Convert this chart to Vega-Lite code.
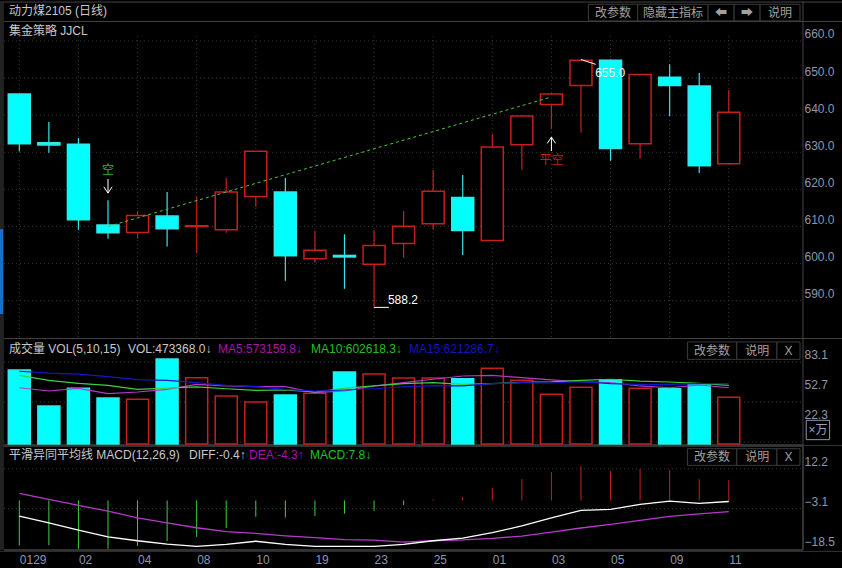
{
  "$schema": "https://vega.github.io/schema/vega-lite/v6.json",
  "background": "#000000",
  "padding": {"left": -2, "top": 0, "right": 0, "bottom": 0},
  "spacing": 0,
  "bounds": "flush",
  "config": {
    "view": {"stroke": null},
    "scale": {"continuousPadding": 0},
    "text": {"font": "Liberation Sans, Noto Sans CJK SC", "fontSize": 12},
    "axis": {"labelFont": "Liberation Sans, Noto Sans CJK SC", "labelFontSize": 12}
  },
  "datasets": {
    "days": [
      {"i":0,"day":"0129","dir":"down","open":645.7,"high":645.7,"low":630.2,"close":632.3,"vol":75,"ma5":57.0,"ma10":69.6,"ma15":73.7,"diff":-6.0,"dea":2.7,"macd":-17.3},
      {"i":1,"day":"01","dir":"down","open":632.6,"high":638.2,"low":629.9,"close":632.0,"vol":38.5,"ma5":53.7,"ma10":64.5,"ma15":71.9,"diff":-8.6,"dea":0.4,"macd":-17.2},
      {"i":2,"day":"02","dir":"down","open":632.2,"high":633.85,"low":609.1,"close":611.8,"vol":56.4,"ma5":56.4,"ma10":61.5,"ma15":70.9,"diff":-11.4,"dea":-1.9,"macd":-18.6},
      {"i":3,"day":"03","dir":"down","open":610.4,"high":617.1,"low":606.7,"close":608.3,"vol":46.6,"ma5":51.0,"ma10":59.5,"ma15":68.2,"diff":-14.0,"dea":-4.1,"macd":-18.6},
      {"i":4,"day":"04","dir":"up","open":608.4,"high":614.2,"low":606.7,"close":613.0,"vol":45.3,"ma5":52.7,"ma10":55.4,"ma15":65.2,"diff":-15.5,"dea":-6.7,"macd":-17.5},
      {"i":5,"day":"05","dir":"down","open":612.8,"high":619.3,"low":604.6,"close":609.4,"vol":86.1,"ma5":55.4,"ma10":56.7,"ma15":64.5,"diff":-16.8,"dea":-8.6,"macd":-15.6},
      {"i":6,"day":"08","dir":"up","open":610.0,"high":618.0,"low":602.9,"close":610.2,"vol":67.2,"ma5":60.5,"ma10":57.8,"ma15":62.1,"diff":-17.7,"dea":-10.5,"macd":-14.0},
      {"i":7,"day":"09","dir":"up","open":609.1,"high":623.1,"low":608.3,"close":619.3,"vol":48.6,"ma5":58.8,"ma10":56.0,"ma15":59.5,"diff":-16.9,"dea":-12.0,"macd":-10.6},
      {"i":8,"day":"10","dir":"up","open":618.1,"high":630.3,"low":615.3,"close":630.3,"vol":42.6,"ma5":58.1,"ma10":54.4,"ma15":58.1,"diff":-15.7,"dea":-12.7,"macd":-6.3},
      {"i":9,"day":"18","dir":"down","open":619.3,"high":623.1,"low":595.4,"close":602.1,"vol":49.7,"ma5":58.1,"ma10":54.7,"ma15":55.4,"diff":-16.9,"dea":-13.6,"macd":-6.6},
      {"i":10,"day":"19","dir":"up","open":601.3,"high":608.8,"low":600.2,"close":603.6,"vol":51.4,"ma5":52.0,"ma10":52.7,"ma15":53.7,"diff":-17.7,"dea":-14.3,"macd":-6.0},
      {"i":11,"day":"22","dir":"down","open":602.2,"high":607.9,"low":593.2,"close":601.8,"vol":73,"ma5":53.7,"ma10":56.4,"ma15":54.7,"diff":-17.7,"dea":-15.1,"macd":-5.1},
      {"i":12,"day":"23","dir":"up","open":599.8,"high":609.0,"low":588.2,"close":604.9,"vol":70.9,"ma5":58.8,"ma10":58.8,"ma15":56.0,"diff":-17.7,"dea":-15.3,"macd":-4.0},
      {"i":13,"day":"24","dir":"up","open":605.4,"high":614.2,"low":601.6,"close":610.1,"vol":66.9,"ma5":62.1,"ma10":61.1,"ma15":57.8,"diff":-16.9,"dea":-16.0,"macd":-1.8},
      {"i":14,"day":"25","dir":"up","open":610.75,"high":625.2,"low":609.1,"close":619.5,"vol":66.9,"ma5":65.6,"ma10":62.1,"ma15":59.1,"diff":-15.5,"dea":-15.5,"macd":0.4},
      {"i":15,"day":"26","dir":"down","open":617.8,"high":623.9,"low":602.3,"close":608.9,"vol":66.2,"ma5":68.9,"ma10":60.5,"ma15":58.8,"diff":-14.5,"dea":-15.2,"macd":1.3},
      {"i":16,"day":"01","dir":"up","open":606.2,"high":634.9,"low":606.2,"close":631.4,"vol":76.7,"ma5":69.6,"ma10":61.1,"ma15":61.1,"diff":-12.4,"dea":-14.6,"macd":4.8},
      {"i":17,"day":"02","dir":"up","open":632.05,"high":640.05,"low":625.3,"close":639.8,"vol":64.5,"ma5":67.2,"ma10":62.5,"ma15":62.1,"diff":-9.8,"dea":-13.7,"macd":8.2},
      {"i":18,"day":"03","dir":"up","open":642.9,"high":646,"low":636.3,"close":645.7,"vol":50.4,"ma5":64.9,"ma10":63.1,"ma15":61.8,"diff":-6.7,"dea":-12.2,"macd":10.9},
      {"i":19,"day":"04","dir":"up","open":648,"high":655,"low":635.3,"close":654.8,"vol":57.4,"ma5":63.1,"ma10":64.5,"ma15":63.1,"diff":-3.8,"dea":-10.6,"macd":13.2},
      {"i":20,"day":"05","dir":"down","open":654.8,"high":655,"low":627.7,"close":631,"vol":65.2,"ma5":62.1,"ma10":65.6,"ma15":61.1,"diff":-3.4,"dea":-9.2,"macd":11.3},
      {"i":21,"day":"08","dir":"up","open":632.3,"high":651,"low":628.3,"close":651,"vol":56.4,"ma5":58.8,"ma10":63.8,"ma15":60.5,"diff":-1.5,"dea":-7.7,"macd":12.1},
      {"i":22,"day":"09","dir":"down","open":650.2,"high":653.7,"low":639.8,"close":648,"vol":55.9,"ma5":57.0,"ma10":62.8,"ma15":60.5,"diff":-0.3,"dea":-6.1,"macd":11.7},
      {"i":23,"day":"10","dir":"down","open":647.9,"high":651.4,"low":624.4,"close":626.4,"vol":60.5,"ma5":59.8,"ma10":61.5,"ma15":61.1,"diff":-1.1,"dea":-5.2,"macd":8.2},
      {"i":24,"day":"11","dir":"up","open":626.9,"high":646.8,"low":626.9,"close":640.8,"vol":47.3,"ma5":57.0,"ma10":59.5,"ma15":61.1,"diff":-0.4,"dea":-4.3,"macd":7.8}
    ],
    "grids": [
      {"panel":"price","at":660},{"panel":"price","at":650},{"panel":"price","at":640},{"panel":"price","at":630},
      {"panel":"price","at":620},{"panel":"price","at":610},{"panel":"price","at":600},{"panel":"price","at":590},
      {"panel":"vol","at":83.1},{"panel":"vol","at":42.6},{"panel":"vol","at":2.0},
      {"panel":"macd","at":12.2},{"panel":"macd","at":-3.1}
    ],
    "trend": [
      {"name":"signal","seq":0,"i":3.0,"price":610.0},
      {"name":"signal","seq":1,"i":18.0,"price":644.9},
      {"name":"top","seq":0,"i":19.0,"price":655.0},
      {"name":"top","seq":1,"i":19.5,"price":653.7},
      {"name":"bottom","seq":0,"i":12.0,"price":588.2},
      {"name":"bottom","seq":1,"i":12.5,"price":588.2},
      {"name":"short","seq":0,"i":3.0,"price":622.8},
      {"name":"short","seq":1,"i":3.0,"price":619.0},
      {"name":"shortHead","seq":0,"i":2.86,"price":620.7},
      {"name":"shortHead","seq":1,"i":3.0,"price":619.0},
      {"name":"shortHead","seq":2,"i":3.14,"price":620.7},
      {"name":"cover","seq":0,"i":18.0,"price":630.35},
      {"name":"cover","seq":1,"i":18.0,"price":634.1},
      {"name":"coverHead","seq":0,"i":17.86,"price":632.4},
      {"name":"coverHead","seq":1,"i":18.0,"price":634.1},
      {"name":"coverHead","seq":2,"i":18.14,"price":632.4}
    ],
    "buttons": [
      {"panel":"price","a":19.25,"b":20.92,"lo":665.4,"hi":669.9},
      {"panel":"price","a":20.92,"b":23.30,"lo":665.4,"hi":669.9},
      {"panel":"price","a":23.30,"b":24.18,"lo":665.4,"hi":669.9},
      {"panel":"price","a":24.18,"b":25.06,"lo":665.4,"hi":669.9},
      {"panel":"price","a":25.06,"b":26.41,"lo":665.4,"hi":669.9},
      {"panel":"vol","a":22.60,"b":24.27,"lo":85.8,"hi":103.4},
      {"panel":"vol","a":24.27,"b":25.63,"lo":85.8,"hi":103.4},
      {"panel":"vol","a":25.63,"b":26.41,"lo":85.8,"hi":103.4},
      {"panel":"macd","a":22.60,"b":24.27,"lo":13.5,"hi":19.9},
      {"panel":"macd","a":24.27,"b":25.63,"lo":13.5,"hi":19.9},
      {"panel":"macd","a":25.63,"b":26.41,"lo":13.5,"hi":19.9}
    ],
    "notes": [
      {"panel":"price","side":"left","tone":"label","i":-0.348,"at":668.0,"text":"动力煤2105 (日线)"},
      {"panel":"price","side":"left","tone":"label","i":-0.348,"at":662.7,"text":"集金策略 JJCL"},
      {"panel":"price","side":"left","tone":"white","i":19.48,"at":651.4,"text":"655.0"},
      {"panel":"price","side":"left","tone":"white","i":12.47,"at":590.3,"text":"588.2"},
      {"panel":"price","side":"mid","tone":"green","i":3.0,"at":625.2,"text":"空"},
      {"panel":"price","side":"mid","tone":"red","i":18.0,"at":627.9,"text":"平空"},
      {"panel":"price","side":"mid","tone":"button","i":20.08,"at":667.6,"text":"改参数"},
      {"panel":"price","side":"mid","tone":"button","i":22.11,"at":667.6,"text":"隐藏主指标"},
      {"panel":"price","side":"mid","tone":"button","i":23.74,"at":667.6,"text":"⬅"},
      {"panel":"price","side":"mid","tone":"button","i":24.62,"at":667.6,"text":"➡"},
      {"panel":"price","side":"mid","tone":"button","i":25.73,"at":667.6,"text":"说明"},
      {"panel":"vol","side":"left","tone":"label","i":-0.348,"at":96.6,"text":"成交量 VOL(5,10,15)"},
      {"panel":"vol","side":"left","tone":"label","i":3.677,"at":96.6,"text":"VOL:473368.0↓"},
      {"panel":"vol","side":"left","tone":"magenta","i":6.72,"at":96.6,"text":"MA5:573159.8↓"},
      {"panel":"vol","side":"left","tone":"green","i":9.87,"at":96.6,"text":"MA10:602618.3↓"},
      {"panel":"vol","side":"left","tone":"blue","i":13.18,"at":96.6,"text":"MA15:621286.7↓"},
      {"panel":"vol","side":"mid","tone":"button","i":23.43,"at":94.6,"text":"改参数"},
      {"panel":"vol","side":"mid","tone":"button","i":24.96,"at":94.6,"text":"说明"},
      {"panel":"vol","side":"mid","tone":"button","i":26.02,"at":94.6,"text":"X"},
      {"panel":"vol","side":"mid","tone":"axis","i":27.02,"at":14.2,"text":"×万"},
      {"panel":"macd","side":"left","tone":"label","i":-0.348,"at":17.6,"text":"平滑异同平均线 MACD(12,26,9)"},
      {"panel":"macd","side":"left","tone":"label","i":5.74,"at":17.6,"text":"DIFF:-0.4↑"},
      {"panel":"macd","side":"left","tone":"magenta","i":7.77,"at":17.6,"text":"DEA:-4.3↑"},
      {"panel":"macd","side":"left","tone":"green","i":9.83,"at":17.6,"text":"MACD:7.8↓"},
      {"panel":"macd","side":"mid","tone":"button","i":23.43,"at":16.7,"text":"改参数"},
      {"panel":"macd","side":"mid","tone":"button","i":24.96,"at":16.7,"text":"说明"},
      {"panel":"macd","side":"mid","tone":"button","i":26.02,"at":16.7,"text":"X"}
    ]
  },
  "vconcat": [
    {
      "width": 842,
      "height": 338,
      "layer": [
        {
          "data": {"name": "grids"},
          "transform": [{"filter": "datum.panel == 'price'"}],
          "mark": {"type": "rule", "color": "#3a3a3a", "strokeDash": [1, 3]},
          "encoding": {
            "x": {"datum": -0.52, "type": "quantitative", "scale": {"domain": [-0.653, 27.83], "nice": false, "zero": false}, "axis": null},
            "x2": {"datum": 26.5},
            "y": {
              "field": "at",
              "type": "quantitative",
              "scale": {"domain": [579.68, 670.78], "nice": false, "zero": false},
              "axis": {"orient": "right", "offset": -39, "values": [660, 650, 640, 630, 620, 610, 600, 590], "format": ".1f", "title": null, "grid": false, "domain": false, "ticks": false, "labelOffset": -7, "labelPadding": 1, "labelColor": "#8d97ab", "zindex": 1}
            }
          }
        },
        {
          "data": {"name": "days"},
          "transform": [{"filter": "datum.i % 2 == 0"}],
          "mark": {"type": "rule", "color": "#3a3a3a", "strokeDash": [1, 3]},
          "encoding": {
            "x": {"field": "i", "type": "quantitative", "scale": {"domain": [-0.653, 27.83], "nice": false, "zero": false}},
            "y": {"datum": 661.35, "type": "quantitative", "scale": {"domain": [579.68, 670.78], "nice": false, "zero": false}},
            "y2": {"datum": 579.68}
          }
        },
        {
          "data": {"values": [{"at": 670.5}, {"at": 665.26}, {"at": 579.8}]},
          "mark": {"type": "rule", "color": "#444444"},
          "encoding": {"y": {"field": "at", "type": "quantitative", "scale": {"domain": [579.68, 670.78], "nice": false, "zero": false}}}
        },
        {
          "data": {"values": [{}]},
          "mark": {"type": "rect", "color": "#222222"},
          "encoding": {
            "x": {"datum": -0.653, "type": "quantitative", "scale": {"domain": [-0.653, 27.83], "nice": false, "zero": false}},
            "x2": {"datum": -0.52}
          }
        },
        {
          "data": {"values": [{}]},
          "mark": {"type": "rect", "color": "#1a6fc4"},
          "encoding": {
            "x": {"datum": -0.653, "type": "quantitative", "scale": {"domain": [-0.653, 27.83], "nice": false, "zero": false}},
            "x2": {"datum": -0.55},
            "y": {"datum": 609.3, "type": "quantitative", "scale": {"domain": [579.68, 670.78], "nice": false, "zero": false}},
            "y2": {"datum": 586.4}
          }
        },
        {
          "data": {"values": [{}]},
          "mark": {"type": "rule", "color": "#444444"},
          "encoding": {"x": {"datum": 26.51, "type": "quantitative", "scale": {"domain": [-0.653, 27.83], "nice": false, "zero": false}}}
        },
        {
          "data": {"name": "days"},
          "mark": {"type": "rule", "strokeWidth": 1.2},
          "encoding": {
            "x": {"field": "i", "type": "quantitative", "scale": {"domain": [-0.653, 27.83], "nice": false, "zero": false}},
            "y": {"field": "low", "type": "quantitative", "scale": {"domain": [579.68, 670.78], "nice": false, "zero": false}},
            "y2": {"field": "high"},
            "stroke": {"field": "dir", "type": "nominal", "scale": {"domain": ["up", "down"], "range": ["#c81e1e", "#33e8e8"]}, "legend": null}
          }
        },
        {
          "data": {"name": "days"},
          "mark": {"type": "bar", "size": 22, "strokeWidth": 1.5},
          "encoding": {
            "x": {"field": "i", "type": "quantitative", "scale": {"domain": [-0.653, 27.83], "nice": false, "zero": false}},
            "y": {"field": "open", "type": "quantitative", "scale": {"domain": [579.68, 670.78], "nice": false, "zero": false}},
            "y2": {"field": "close"},
            "fill": {"field": "dir", "type": "nominal", "scale": {"domain": ["up", "down"], "range": ["#000000", "#00ffff"]}, "legend": null},
            "stroke": {"field": "dir", "type": "nominal", "scale": {"domain": ["up", "down"], "range": ["#c81e1e", "#00ffff"]}, "legend": null}
          }
        },
        {
          "data": {"name": "trend"},
          "transform": [{"filter": "datum.name == 'signal'"}],
          "mark": {"type": "line", "color": "#4fc93a", "strokeWidth": 1, "strokeDash": [3, 3]},
          "encoding": {
            "x": {"field": "i", "type": "quantitative", "scale": {"domain": [-0.653, 27.83], "nice": false, "zero": false}},
            "y": {"field": "price", "type": "quantitative", "scale": {"domain": [579.68, 670.78], "nice": false, "zero": false}}
          }
        },
        {
          "data": {"name": "trend"},
          "transform": [{"filter": "datum.name != 'signal'"}],
          "mark": {"type": "line", "color": "#ffffff", "strokeWidth": 1},
          "encoding": {
            "x": {"field": "i", "type": "quantitative", "scale": {"domain": [-0.653, 27.83], "nice": false, "zero": false}},
            "y": {"field": "price", "type": "quantitative", "scale": {"domain": [579.68, 670.78], "nice": false, "zero": false}},
            "detail": {"field": "name"},
            "order": {"field": "seq"}
          }
        },
        {
          "data": {"name": "buttons"},
          "transform": [{"filter": "datum.panel == 'price'"}],
          "mark": {"type": "rect", "fill": "#000000", "stroke": "#3c3c3c"},
          "encoding": {
            "x": {"field": "a", "type": "quantitative", "scale": {"domain": [-0.653, 27.83], "nice": false, "zero": false}},
            "x2": {"field": "b"},
            "y": {"field": "lo", "type": "quantitative", "scale": {"domain": [579.68, 670.78], "nice": false, "zero": false}},
            "y2": {"field": "hi"}
          }
        },
        {
          "data": {"name": "notes"},
          "transform": [{"filter": "datum.panel == 'price' && datum.side == 'left'"}],
          "mark": {"type": "text", "align": "left", "baseline": "middle"},
          "encoding": {
            "x": {"field": "i", "type": "quantitative", "scale": {"domain": [-0.653, 27.83], "nice": false, "zero": false}},
            "y": {"field": "at", "type": "quantitative", "scale": {"domain": [579.68, 670.78], "nice": false, "zero": false}},
            "text": {"field": "text"},
            "color": {"field": "tone", "type": "nominal", "legend": null, "scale": {"domain": ["label", "white", "green", "red", "button", "magenta", "blue", "axis"], "range": ["#c8c8c8", "#ffffff", "#1fc01f", "#c81e1e", "#a0a0a0", "#a814a8", "#1414c0", "#9aa4b8"]}}
          }
        },
        {
          "data": {"name": "notes"},
          "transform": [{"filter": "datum.panel == 'price' && datum.side == 'mid'"}],
          "mark": {"type": "text", "align": "center", "baseline": "middle"},
          "encoding": {
            "x": {"field": "i", "type": "quantitative", "scale": {"domain": [-0.653, 27.83], "nice": false, "zero": false}},
            "y": {"field": "at", "type": "quantitative", "scale": {"domain": [579.68, 670.78], "nice": false, "zero": false}},
            "text": {"field": "text"},
            "color": {"field": "tone", "type": "nominal", "legend": null, "scale": {"domain": ["label", "white", "green", "red", "button", "magenta", "blue", "axis"], "range": ["#c8c8c8", "#ffffff", "#1fc01f", "#c81e1e", "#a0a0a0", "#a814a8", "#1414c0", "#9aa4b8"]}}
          }
        }
      ]
    },
    {
      "width": 842,
      "height": 107,
      "layer": [
        {
          "data": {"name": "grids"},
          "transform": [{"filter": "datum.panel == 'vol'"}],
          "mark": {"type": "rule", "color": "#3a3a3a", "strokeDash": [1, 3]},
          "encoding": {
            "x": {"datum": -0.52, "type": "quantitative", "scale": {"domain": [-0.653, 27.83], "nice": false, "zero": false}, "axis": null},
            "x2": {"datum": 26.5},
            "y": {
              "field": "at",
              "type": "quantitative",
              "scale": {"domain": [-2.03, 106.4], "nice": false, "zero": false},
              "axis": {"orient": "right", "offset": -39, "values": [83.1, 52.7, 22.3], "format": ".1f", "title": null, "grid": false, "domain": false, "ticks": false, "labelOffset": -7, "labelPadding": 1, "labelColor": "#8d97ab", "zindex": 0}
            }
          }
        },
        {
          "data": {"values": [{"at": -1.5}]},
          "mark": {"type": "rule", "color": "#333333"},
          "encoding": {"y": {"field": "at", "type": "quantitative", "scale": {"domain": [-2.03, 106.4], "nice": false, "zero": false}}}
        },
        {
          "data": {"values": [{"at": -1.5}]},
          "mark": {"type": "rule", "color": "#333333", "strokeWidth": 3},
          "encoding": {
            "x": {"datum": -0.653, "type": "quantitative", "scale": {"domain": [-0.653, 27.83], "nice": false, "zero": false}},
            "x2": {"datum": 26.51},
            "y": {"field": "at", "type": "quantitative", "scale": {"domain": [-2.03, 106.4], "nice": false, "zero": false}}
          }
        },
        {
          "data": {"values": [{}]},
          "mark": {"type": "rect", "color": "#222222"},
          "encoding": {
            "x": {"datum": -0.653, "type": "quantitative", "scale": {"domain": [-0.653, 27.83], "nice": false, "zero": false}},
            "x2": {"datum": -0.52}
          }
        },
        {
          "data": {"values": [{}]},
          "mark": {"type": "rule", "color": "#444444"},
          "encoding": {"x": {"datum": 26.51, "type": "quantitative", "scale": {"domain": [-0.653, 27.83], "nice": false, "zero": false}}}
        },
        {
          "data": {"name": "days"},
          "mark": {"type": "bar", "size": 22, "strokeWidth": 1.5},
          "encoding": {
            "x": {"field": "i", "type": "quantitative", "scale": {"domain": [-0.653, 27.83], "nice": false, "zero": false}},
            "y": {"field": "vol", "type": "quantitative", "scale": {"domain": [-2.03, 106.4], "nice": false, "zero": false}},
            "y2": {"datum": 0},
            "fill": {"field": "dir", "type": "nominal", "scale": {"domain": ["up", "down"], "range": ["#000000", "#00ffff"]}, "legend": null},
            "stroke": {"field": "dir", "type": "nominal", "scale": {"domain": ["up", "down"], "range": ["#c81e1e", "#00ffff"]}, "legend": null}
          }
        },
        {
          "data": {"name": "days"},
          "mark": {"type": "line", "color": "#b53ac8", "strokeWidth": 1.2},
          "encoding": {
            "x": {"field": "i", "type": "quantitative", "scale": {"domain": [-0.653, 27.83], "nice": false, "zero": false}},
            "y": {"field": "ma5", "type": "quantitative", "scale": {"domain": [-2.03, 106.4], "nice": false, "zero": false}}
          }
        },
        {
          "data": {"name": "days"},
          "mark": {"type": "line", "color": "#3fcf3f", "strokeWidth": 1.2},
          "encoding": {
            "x": {"field": "i", "type": "quantitative", "scale": {"domain": [-0.653, 27.83], "nice": false, "zero": false}},
            "y": {"field": "ma10", "type": "quantitative", "scale": {"domain": [-2.03, 106.4], "nice": false, "zero": false}}
          }
        },
        {
          "data": {"name": "days"},
          "mark": {"type": "line", "color": "#1616c8", "strokeWidth": 1.2},
          "encoding": {
            "x": {"field": "i", "type": "quantitative", "scale": {"domain": [-0.653, 27.83], "nice": false, "zero": false}},
            "y": {"field": "ma15", "type": "quantitative", "scale": {"domain": [-2.03, 106.4], "nice": false, "zero": false}}
          }
        },
        {
          "data": {"name": "buttons"},
          "transform": [{"filter": "datum.panel == 'vol'"}],
          "mark": {"type": "rect", "fill": "#000000", "stroke": "#3c3c3c"},
          "encoding": {
            "x": {"field": "a", "type": "quantitative", "scale": {"domain": [-0.653, 27.83], "nice": false, "zero": false}},
            "x2": {"field": "b"},
            "y": {"field": "lo", "type": "quantitative", "scale": {"domain": [-2.03, 106.4], "nice": false, "zero": false}},
            "y2": {"field": "hi"}
          }
        },
        {
          "data": {"values": [{"a": 26.62, "b": 27.41, "lo": 4.4, "hi": 24}]},
          "mark": {"type": "rect", "fill": "#000000", "stroke": "#8d97ab"},
          "encoding": {
            "x": {"field": "a", "type": "quantitative", "scale": {"domain": [-0.653, 27.83], "nice": false, "zero": false}},
            "x2": {"field": "b"},
            "y": {"field": "lo", "type": "quantitative", "scale": {"domain": [-2.03, 106.4], "nice": false, "zero": false}},
            "y2": {"field": "hi"}
          }
        },
        {
          "data": {"name": "notes"},
          "transform": [{"filter": "datum.panel == 'vol' && datum.side == 'left'"}],
          "mark": {"type": "text", "align": "left", "baseline": "middle"},
          "encoding": {
            "x": {"field": "i", "type": "quantitative", "scale": {"domain": [-0.653, 27.83], "nice": false, "zero": false}},
            "y": {"field": "at", "type": "quantitative", "scale": {"domain": [-2.03, 106.4], "nice": false, "zero": false}},
            "text": {"field": "text"},
            "color": {"field": "tone", "type": "nominal", "legend": null, "scale": {"domain": ["label", "white", "green", "red", "button", "magenta", "blue", "axis"], "range": ["#c8c8c8", "#ffffff", "#1fc01f", "#c81e1e", "#a0a0a0", "#a814a8", "#1414c0", "#9aa4b8"]}}
          }
        },
        {
          "data": {"name": "notes"},
          "transform": [{"filter": "datum.panel == 'vol' && datum.side == 'mid'"}],
          "mark": {"type": "text", "align": "center", "baseline": "middle"},
          "encoding": {
            "x": {"field": "i", "type": "quantitative", "scale": {"domain": [-0.653, 27.83], "nice": false, "zero": false}},
            "y": {"field": "at", "type": "quantitative", "scale": {"domain": [-2.03, 106.4], "nice": false, "zero": false}},
            "text": {"field": "text"},
            "color": {"field": "tone", "type": "nominal", "legend": null, "scale": {"domain": ["label", "white", "green", "red", "button", "magenta", "blue", "axis"], "range": ["#c8c8c8", "#ffffff", "#1fc01f", "#c81e1e", "#a0a0a0", "#a814a8", "#1414c0", "#9aa4b8"]}}
          }
        }
      ]
    },
    {
      "width": 842,
      "height": 123,
      "layer": [
        {
          "data": {"name": "grids"},
          "transform": [{"filter": "datum.panel == 'macd'"}],
          "mark": {"type": "rule", "color": "#3a3a3a", "strokeDash": [1, 3]},
          "encoding": {
            "x": {
              "datum": -0.52,
              "type": "quantitative",
              "scale": {"domain": [-0.653, 27.83], "nice": false, "zero": false},
              "axis": {"orient": "bottom", "offset": -18, "values": [0, 2, 4, 6, 8, 10, 12, 14, 16, 18, 20, 22, 24], "labelExpr": "{'0':'0129','2':'02','4':'04','6':'08','8':'10','10':'19','12':'23','14':'25','16':'01','18':'03','20':'05','22':'09','24':'11'}[datum.value]", "title": null, "grid": false, "domain": false, "ticks": false, "labelAlign": "left", "labelBaseline": "top", "labelPadding": 3, "labelColor": "#8d97ab", "labelOverlap": false, "zindex": 1}
            },
            "x2": {"datum": 26.5},
            "y": {
              "field": "at",
              "type": "quantitative",
              "scale": {"domain": [-26.37, 20.94], "nice": false, "zero": false},
              "axis": {"orient": "right", "offset": -39, "values": [12.2, -3.1, -18.5], "format": ".1f", "title": null, "grid": false, "domain": false, "ticks": false, "labelOffset": -7, "labelPadding": 1, "labelColor": "#8d97ab", "zindex": 1}
            }
          }
        },
        {
          "data": {"values": [{}]},
          "mark": {"type": "rule", "color": "#333333", "strokeWidth": 2},
          "encoding": {
            "x": {"datum": -0.52, "type": "quantitative", "scale": {"domain": [-0.653, 27.83], "nice": false, "zero": false}},
            "x2": {"datum": 26.51},
            "y": {"datum": -19.1, "type": "quantitative", "scale": {"domain": [-26.37, 20.94], "nice": false, "zero": false}}
          }
        },
        {
          "data": {"values": [{"at": -19.6}]},
          "mark": {"type": "rule", "color": "#333333"},
          "encoding": {"y": {"field": "at", "type": "quantitative", "scale": {"domain": [-26.37, 20.94], "nice": false, "zero": false}}}
        },
        {
          "data": {"values": [{}]},
          "mark": {"type": "rect", "color": "#222222"},
          "encoding": {
            "x": {"datum": -0.653, "type": "quantitative", "scale": {"domain": [-0.653, 27.83], "nice": false, "zero": false}},
            "x2": {"datum": -0.52},
            "y": {"datum": 20.94, "type": "quantitative", "scale": {"domain": [-26.37, 20.94], "nice": false, "zero": false}},
            "y2": {"datum": -19.1}
          }
        },
        {
          "data": {"values": [{}]},
          "mark": {"type": "rule", "color": "#333333", "strokeWidth": 2},
          "encoding": {
            "x": {"datum": 26.51, "type": "quantitative", "scale": {"domain": [-0.653, 27.83], "nice": false, "zero": false}},
            "y": {"datum": 20.94, "type": "quantitative", "scale": {"domain": [-26.37, 20.94], "nice": false, "zero": false}},
            "y2": {"datum": -19.1}
          }
        },
        {
          "data": {"name": "days"},
          "mark": {"type": "rule", "strokeWidth": 1},
          "encoding": {
            "x": {"field": "i", "type": "quantitative", "scale": {"domain": [-0.653, 27.83], "nice": false, "zero": false}},
            "y": {"field": "macd", "type": "quantitative", "scale": {"domain": [-26.37, 20.94], "nice": false, "zero": false}},
            "y2": {"datum": 0},
            "stroke": {"condition": {"test": "datum.macd >= 0", "value": "#c81e1e"}, "value": "#3fcf3f"}
          }
        },
        {
          "data": {"name": "days"},
          "mark": {"type": "line", "color": "#b53ac8", "strokeWidth": 1.3},
          "encoding": {
            "x": {"field": "i", "type": "quantitative", "scale": {"domain": [-0.653, 27.83], "nice": false, "zero": false}},
            "y": {"field": "dea", "type": "quantitative", "scale": {"domain": [-26.37, 20.94], "nice": false, "zero": false}}
          }
        },
        {
          "data": {"name": "days"},
          "mark": {"type": "line", "color": "#ffffff", "strokeWidth": 1.3},
          "encoding": {
            "x": {"field": "i", "type": "quantitative", "scale": {"domain": [-0.653, 27.83], "nice": false, "zero": false}},
            "y": {"field": "diff", "type": "quantitative", "scale": {"domain": [-26.37, 20.94], "nice": false, "zero": false}}
          }
        },
        {
          "data": {"name": "buttons"},
          "transform": [{"filter": "datum.panel == 'macd'"}],
          "mark": {"type": "rect", "fill": "#000000", "stroke": "#3c3c3c"},
          "encoding": {
            "x": {"field": "a", "type": "quantitative", "scale": {"domain": [-0.653, 27.83], "nice": false, "zero": false}},
            "x2": {"field": "b"},
            "y": {"field": "lo", "type": "quantitative", "scale": {"domain": [-26.37, 20.94], "nice": false, "zero": false}},
            "y2": {"field": "hi"}
          }
        },
        {
          "data": {"name": "notes"},
          "transform": [{"filter": "datum.panel == 'macd' && datum.side == 'left'"}],
          "mark": {"type": "text", "align": "left", "baseline": "middle"},
          "encoding": {
            "x": {"field": "i", "type": "quantitative", "scale": {"domain": [-0.653, 27.83], "nice": false, "zero": false}},
            "y": {"field": "at", "type": "quantitative", "scale": {"domain": [-26.37, 20.94], "nice": false, "zero": false}},
            "text": {"field": "text"},
            "color": {"field": "tone", "type": "nominal", "legend": null, "scale": {"domain": ["label", "white", "green", "red", "button", "magenta", "blue", "axis"], "range": ["#c8c8c8", "#ffffff", "#1fc01f", "#c81e1e", "#a0a0a0", "#a814a8", "#1414c0", "#9aa4b8"]}}
          }
        },
        {
          "data": {"name": "notes"},
          "transform": [{"filter": "datum.panel == 'macd' && datum.side == 'mid'"}],
          "mark": {"type": "text", "align": "center", "baseline": "middle"},
          "encoding": {
            "x": {"field": "i", "type": "quantitative", "scale": {"domain": [-0.653, 27.83], "nice": false, "zero": false}},
            "y": {"field": "at", "type": "quantitative", "scale": {"domain": [-26.37, 20.94], "nice": false, "zero": false}},
            "text": {"field": "text"},
            "color": {"field": "tone", "type": "nominal", "legend": null, "scale": {"domain": ["label", "white", "green", "red", "button", "magenta", "blue", "axis"], "range": ["#c8c8c8", "#ffffff", "#1fc01f", "#c81e1e", "#a0a0a0", "#a814a8", "#1414c0", "#9aa4b8"]}}
          }
        }
      ]
    }
  ]
}
